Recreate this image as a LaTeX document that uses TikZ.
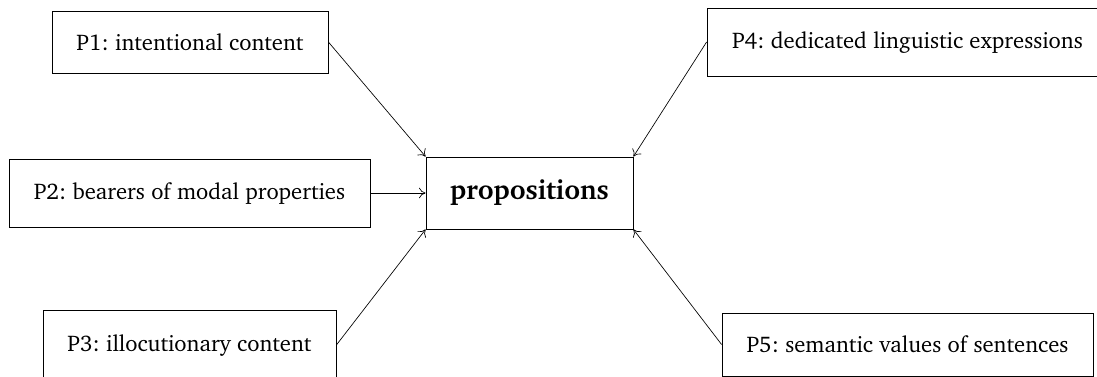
\documentclass[tikz,border=0pt]{standalone}
\usepackage[T1]{fontenc}
\usepackage{charter}
\usetikzlibrary{arrows.meta}
\frenchspacing
\begin{document}
\begin{tikzpicture}[x=0.75pt,y=-0.75pt,
  box/.style={draw, line width=0.6pt, inner sep=0pt, align=center, font=\fontsize{17}{20}\selectfont},
  arr/.style={-{To[length=5pt,width=8pt]}, line width=0.5pt}]
\useasboundingbox (0,0) rectangle (1097,377);
\node[box, minimum width=207pt, minimum height=46.5pt] (p1) at (190,42) {P1: intentional content};
\node[box, minimum width=270.75pt, minimum height=51pt] (p2) at (189.5,193) {P2: bearers of modal properties};
\node[box, minimum width=219.75pt, minimum height=52.5pt] (p3) at (189.5,345) {P3: illocutionary content};
\node[box, minimum width=300.75pt, minimum height=51pt] (p4) at (907.5,42) {P4: dedicated linguistic expressions};
\node[box, minimum width=278.25pt, minimum height=47.25pt] (p5) at (907.5,344.5) {P5: semantic values of sentences};
\node[box, minimum width=155.25pt, minimum height=54pt, font=\fontsize{20.5}{23}\selectfont\bfseries] (pr) at (529.5,193) {propositions};
\draw[arr] (p1.east) -- (pr.north west);
\draw[arr] (p2.east) -- (pr.west);
\draw[arr] (p3.east) -- (pr.south west);
\draw[arr] (p4.west) -- (pr.north east);
\draw[arr] (p5.west) -- (pr.south east);
\end{tikzpicture}
\end{document}
